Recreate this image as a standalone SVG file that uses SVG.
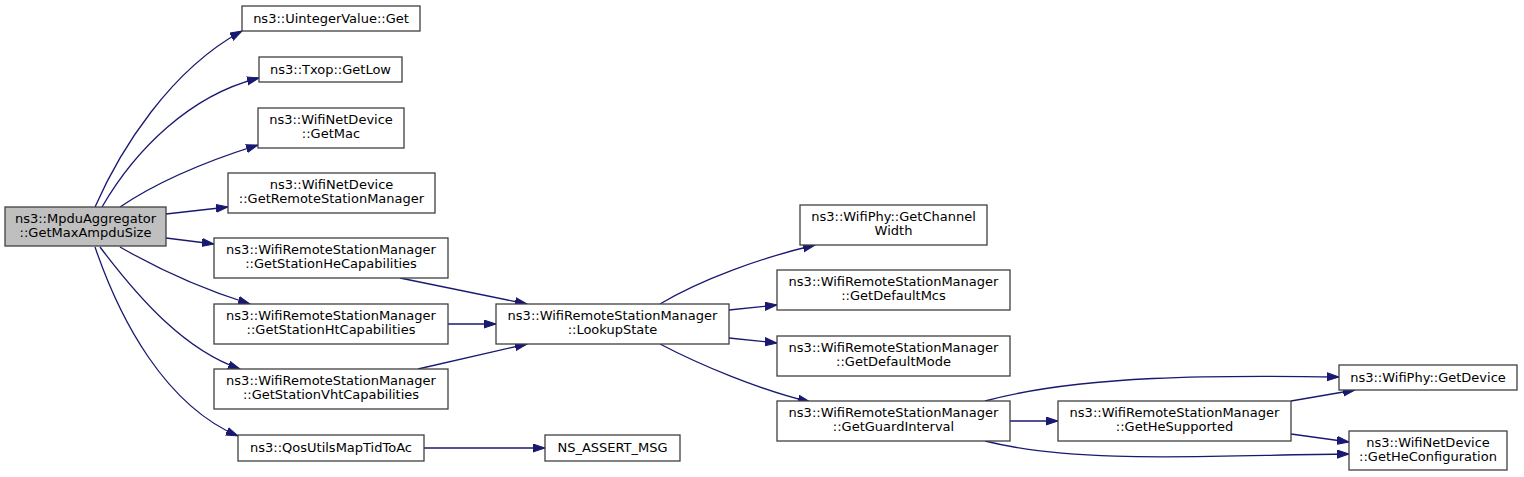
<svg xmlns="http://www.w3.org/2000/svg" width="1524" height="477" viewBox="0 0 1524 477">
<style>
text{font-family:"DejaVu Sans","Liberation Sans",sans-serif;font-size:13px;fill:#000;text-anchor:middle}
.n rect{fill:#fff;stroke:#404040;stroke-width:1.3}
.main rect{fill:#bfbfbf}
.e path{fill:none;stroke:#191970;stroke-width:1.3;marker-end:url(#ah)}
</style>
<defs>
<marker id="ah" markerUnits="userSpaceOnUse" markerWidth="14" markerHeight="10" refX="12" refY="4.5" orient="auto"><path d="M0,0.5 L12,4.5 L0,8.5 z" fill="#191970" stroke="#191970"/></marker>
</defs>
<rect width="1524" height="477" fill="#fff"/>
<g class="e" id="edges">
<path d="M95,207 C120,150 170,70 242,31"/>
<path d="M102,207 C135,150 190,95 259,78"/>
<path d="M120,207 C160,180 210,160 258,145"/>
<path d="M166,214 L228,207"/>
<path d="M166,238 L214,244"/>
<path d="M120,247 C160,270 205,290 250,304"/>
<path d="M100,247 C140,300 185,350 240,369"/>
<path d="M95,247 C120,320 165,405 238,436"/>
<path d="M400,278 L527,304"/>
<path d="M448,324 L496,324"/>
<path d="M418,369 L527,344"/>
<path d="M660,304 C700,280 760,258 815,245"/>
<path d="M729,310 L777,305"/>
<path d="M729,338 L777,343"/>
<path d="M660,344 C700,365 760,390 810,402"/>
<path d="M424,448 L545,448"/>
<path d="M1010,421 L1058,421"/>
<path d="M985,401 C1080,375 1220,375 1339,377"/>
<path d="M1291,401 L1355,390"/>
<path d="M1291,434 L1349,442"/>
<path d="M985,441 C1080,465 1220,455 1349,454"/>
</g>
<g class="n main" id="n_main"><rect x="5" y="207" width="161" height="39"/><text x="85.5" y="223">ns3::MpduAggregator</text><text x="85.5" y="237">::GetMaxAmpduSize</text></g>
<g class="n" id="n_uint"><rect x="242" y="6" width="178" height="25"/><text x="331" y="23">ns3::UintegerValue::Get</text></g>
<g class="n" id="n_txop"><rect x="259" y="57" width="143" height="25"/><text x="330.5" y="74">ns3::Txop::GetLow</text></g>
<g class="n" id="n_mac"><rect x="258" y="108" width="146" height="40"/><text x="331" y="124">ns3::WifiNetDevice</text><text x="331" y="138">::GetMac</text></g>
<g class="n" id="n_grsm"><rect x="228" y="173" width="207" height="40"/><text x="331.5" y="189">ns3::WifiNetDevice</text><text x="331.5" y="203">::GetRemoteStationManager</text></g>
<g class="n" id="n_he"><rect x="214" y="238" width="234" height="40"/><text x="331" y="254">ns3::WifiRemoteStationManager</text><text x="331" y="268">::GetStationHeCapabilities</text></g>
<g class="n" id="n_ht"><rect x="214" y="304" width="234" height="40"/><text x="331" y="320">ns3::WifiRemoteStationManager</text><text x="331" y="334">::GetStationHtCapabilities</text></g>
<g class="n" id="n_vht"><rect x="214" y="369" width="234" height="40"/><text x="331" y="385">ns3::WifiRemoteStationManager</text><text x="331" y="399">::GetStationVhtCapabilities</text></g>
<g class="n" id="n_qos"><rect x="238" y="435" width="186" height="26"/><text x="331" y="452">ns3::QosUtilsMapTidToAc</text></g>
<g class="n" id="n_assert"><rect x="545" y="435" width="135" height="26"/><text x="612.5" y="452">NS_ASSERT_MSG</text></g>
<g class="n" id="n_lookup"><rect x="496" y="304" width="233" height="40"/><text x="612.5" y="320">ns3::WifiRemoteStationManager</text><text x="612.5" y="334">::LookupState</text></g>
<g class="n" id="n_chw"><rect x="800" y="205" width="187" height="40"/><text x="893.5" y="221">ns3::WifiPhy::GetChannel</text><text x="893.5" y="235">Width</text></g>
<g class="n" id="n_mcs"><rect x="777" y="270" width="233" height="40"/><text x="893.5" y="286">ns3::WifiRemoteStationManager</text><text x="893.5" y="300">::GetDefaultMcs</text></g>
<g class="n" id="n_mode"><rect x="777" y="336" width="233" height="40"/><text x="893.5" y="352">ns3::WifiRemoteStationManager</text><text x="893.5" y="366">::GetDefaultMode</text></g>
<g class="n" id="n_gi"><rect x="777" y="401" width="233" height="40"/><text x="893.5" y="417">ns3::WifiRemoteStationManager</text><text x="893.5" y="431">::GetGuardInterval</text></g>
<g class="n" id="n_hesup"><rect x="1058" y="401" width="233" height="40"/><text x="1174.5" y="417">ns3::WifiRemoteStationManager</text><text x="1174.5" y="431">::GetHeSupported</text></g>
<g class="n" id="n_dev"><rect x="1339" y="365" width="178" height="25"/><text x="1428" y="382">ns3::WifiPhy::GetDevice</text></g>
<g class="n" id="n_heconf"><rect x="1349" y="431" width="158" height="39"/><text x="1428" y="447">ns3::WifiNetDevice</text><text x="1428" y="461">::GetHeConfiguration</text></g>
</svg>
